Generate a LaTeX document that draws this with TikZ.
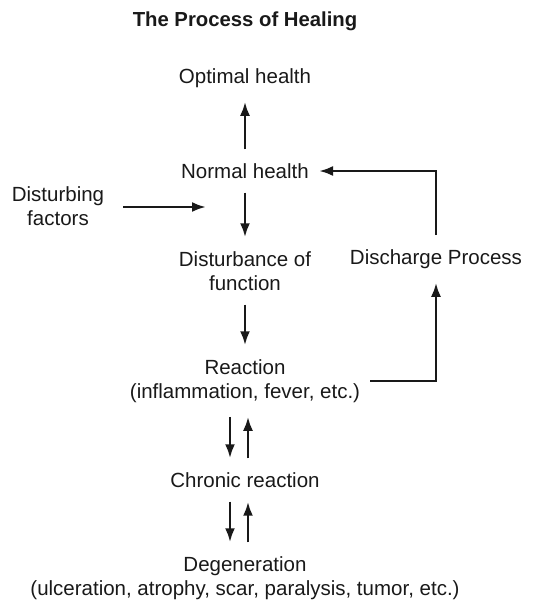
\documentclass[tikz,border=0pt]{standalone}
\usepackage{fontspec}
\setmainfont{Liberation Sans}
\usetikzlibrary{arrows.meta,positioning}

\begin{document}
\begin{tikzpicture}[
    x=1pt, y=-1pt,
    txt/.style={align=center, inner xsep=10pt, inner ysep=14pt, text=black!90, font=\fontsize{20.5}{24}\selectfont},
    arr/.style={-{Latex[length=14pt,width=10pt]}, line width=2.6pt, draw=black!90}
]
    \useasboundingbox (0,0) rectangle (546,602);
    \node [txt, font=\fontsize{20.3}{24}\selectfont\bfseries] (ttl) at (245,21) {The Process of Healing};
    \node [txt] (opt) at (245,78) {Optimal health};
    \node [txt] (norm) at (245,171) {Normal health};
    \node [txt, inner xsep=19pt] (dist) at (58,206) {Disturbing\\factors};
    \node [txt] (dfun) at (245,271) {Disturbance of\\function};
    \node [txt] (disch) at (436,259) {Discharge Process};
    \node [txt] (react) at (245,381) {Reaction\\(inflammation, fever, etc.)};
    \node [txt] (chron) at (245,480) {Chronic reaction};
    \node [txt] (degen) at (245,578) {Degeneration\\(ulceration, atrophy, scar, paralysis, tumor, etc.)};
    \coordinate (hit) at (206,207);

    \draw [arr] (norm) -- (opt);
    \draw [arr] (norm) -- (dfun);
    \draw [arr] (dist.east |- hit) -- (hit);
    \draw [arr] (dfun) -- (react);
    \draw [arr] (react.east) -| (disch.south);
    \draw [arr] (disch.north) |- (norm.east);
    \draw [arr] ([xshift=-15pt]react.south) -- ([xshift=-15pt]chron.north);
    \draw [arr] ([xshift=3pt]chron.north) -- ([xshift=3pt]react.south);
    \draw [arr] ([xshift=-15pt]chron.south) -- ([xshift=-15pt]degen.north);
    \draw [arr] ([xshift=3pt]degen.north) -- ([xshift=3pt]chron.south);
\end{tikzpicture}
\end{document}
